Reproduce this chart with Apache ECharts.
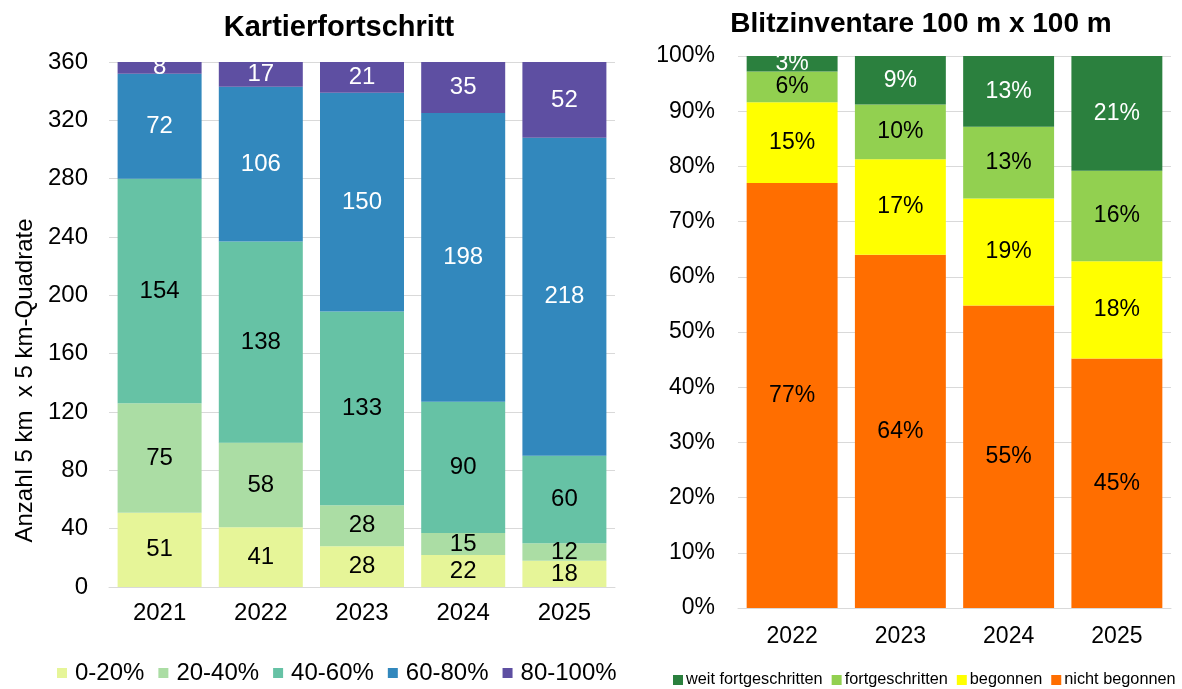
<!DOCTYPE html>
<html>
<head>
<meta charset="utf-8">
<script src="https://cdn.jsdelivr.net/npm/echarts@6/dist/echarts.min.js"></script>
<style>html,body{margin:0;padding:0;background:#fff;}#c{width:1182px;height:689px;}</style>
</head>
<body>
<div id="c"></div>
<script>
// Left chart: Kartierfortschritt (count of 5 km x 5 km squares)
const yearsLeft = ['2021', '2022', '2023', '2024', '2025'];
const leftNames = ['0-20%', '20-40%', '40-60%', '60-80%', '80-100%'];
const v0_20   = [51, 41, 28, 22, 18];
const v20_40  = [75, 58, 28, 15, 12];
const v40_60  = [154, 138, 133, 90, 60];
const v60_80  = [72, 106, 150, 198, 218];
const v80_100 = [8, 17, 21, 35, 52];
const leftTicks = { min: 0, max: 360, interval: 40 };

// Right chart: Blitzinventare 100 m x 100 m (shares in %)
const yearsRight = ['2022', '2023', '2024', '2025'];
const rightNames = ['nicht begonnen', 'begonnen', 'fortgeschritten', 'weit fortgeschritten'];
const rightLegendOrder = ['weit fortgeschritten', 'fortgeschritten', 'begonnen', 'nicht begonnen'];
const nichtBegonnen = [77.0, 64.0, 54.8, 45.2];
const begonnen      = [14.6, 17.3, 19.4, 17.6];
const fortgeschr    = [5.6, 9.9, 13.0, 16.4];
const weitFortg     = [2.8, 8.8, 12.8, 20.8];
const rightTicks = { min: 0, max: 100, interval: 10 };

const FONT = "'Liberation Sans', Arial, sans-serif";
const leftColors = ['#e6f598', '#abdda4', '#66c2a5', '#3288bd', '#5e4fa2'];
const leftLabelColors = ['#000', '#000', '#000', '#fff', '#fff'];
const rightColors = ['#ff6e00', '#ffff00', '#92d050', '#2b803e'];
const rightLabelColors = ['#000', '#000', '#000', '#fff'];

const leftData = [v0_20, v20_40, v40_60, v60_80, v80_100];
const rightData = [nichtBegonnen, begonnen, fortgeschr, weitFortg];

const series = [];
leftData.forEach((d, i) => {
  series.push({
    name: leftNames[i], type: 'bar', stack: 'left', xAxisIndex: 0, yAxisIndex: 0,
    data: d, barCategoryGap: '17%',
    itemStyle: { color: leftColors[i] },
    label: { show: true, position: 'inside', color: leftLabelColors[i], fontSize: 24, fontFamily: FONT },
    emphasis: { disabled: true }
  });
});
rightData.forEach((d, i) => {
  series.push({
    name: rightNames[i], type: 'bar', stack: 'right', xAxisIndex: 1, yAxisIndex: 1,
    data: d, barCategoryGap: '16%',
    itemStyle: { color: rightColors[i] },
    label: { show: true, position: 'inside', color: rightLabelColors[i], fontSize: 23, fontFamily: FONT,
             formatter: p => Math.round(p.value) + '%' },
    emphasis: { disabled: true }
  });
});

const gridLine = { show: true, lineStyle: { color: '#d9d9d9', width: 1 } };

const option = {
  animation: false,
  backgroundColor: '#fff',
  textStyle: { fontFamily: FONT },
  title: [
    { text: 'Kartierfortschritt', left: 334, top: 8, textAlign: 'center',
      textStyle: { fontSize: 29, fontWeight: 'bold', color: '#000', fontFamily: FONT } },
    { text: 'Blitzinventare 100 m x 100 m', left: 916, top: 5, textAlign: 'center',
      textStyle: { fontSize: 28, fontWeight: 'bold', color: '#000', fontFamily: FONT } }
  ],
  legend: [
    { data: leftNames, left: 52, top: 656, width: 620, itemWidth: 10, itemHeight: 10, itemGap: 14, icon: 'rect',
      textStyle: { fontSize: 24, color: '#000', fontFamily: FONT, padding: [0, 0, 0, 3] } },
    { data: rightLegendOrder, left: 668, top: 667, width: 560, itemWidth: 10, itemHeight: 10, itemGap: 9, icon: 'rect',
      textStyle: { fontSize: 16.3, color: '#000', fontFamily: FONT, padding: [0, 0, 0, -2] } }
  ],
  grid: [
    { left: 109, top: 62, width: 506, height: 525 },
    { left: 738, top: 56, width: 433, height: 552 }
  ],
  xAxis: [
    { type: 'category', gridIndex: 0, data: yearsLeft,
      axisLine: { show: true, lineStyle: { color: '#d9d9d9' } }, axisTick: { show: false },
      axisLabel: { fontSize: 24, color: '#000', margin: 14, fontFamily: FONT } },
    { type: 'category', gridIndex: 1, data: yearsRight,
      axisLine: { show: true, lineStyle: { color: '#d9d9d9' } }, axisTick: { show: false },
      axisLabel: { fontSize: 23, color: '#000', margin: 17, fontFamily: FONT } }
  ],
  yAxis: [
    { type: 'value', gridIndex: 0, min: leftTicks.min, max: leftTicks.max, interval: leftTicks.interval,
      name: 'Anzahl 5 km  x 5 km-Quadrate', nameLocation: 'middle', nameGap: 72,
      nameTextStyle: { fontSize: 24, color: '#000', fontFamily: FONT, padding: [0, 112, 0, 0] },
      axisLine: { show: false }, axisTick: { show: false }, splitLine: gridLine,
      axisLabel: { fontSize: 24, color: '#000', margin: 21, fontFamily: FONT } },
    { type: 'value', gridIndex: 1, min: rightTicks.min, max: rightTicks.max, interval: rightTicks.interval,
      axisLine: { show: false }, axisTick: { show: false }, splitLine: gridLine,
      axisLabel: { fontSize: 23, color: '#000', margin: 23, fontFamily: FONT, formatter: '{value}%' } }
  ],
  series: series
};

const chart = echarts.init(document.getElementById('c'), null, { renderer: 'canvas' });
chart.setOption(option);
</script>
</body>
</html>
